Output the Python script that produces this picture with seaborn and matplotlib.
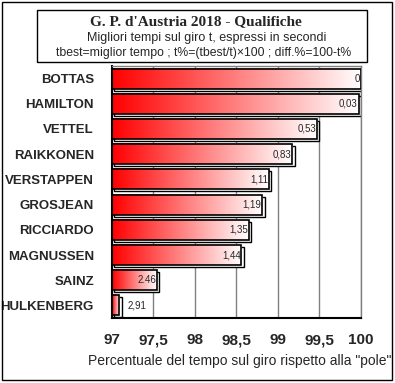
import matplotlib
matplotlib.use('Agg')
import matplotlib.pyplot as plt
import matplotlib.transforms as mtransforms
from matplotlib.colors import LinearSegmentedColormap
from matplotlib.patches import Rectangle
import numpy as np
import pandas as pd
import seaborn as sns

drivers = ['BOTTAS', 'HAMILTON', 'VETTEL', 'RAIKKONEN', 'VERSTAPPEN',
           'GROSJEAN', 'RICCIARDO', 'MAGNUSSEN', 'SAINZ', 'HULKENBERG']
diff_pct = [0, 0.03, 0.53, 0.83, 1.11, 1.19, 1.35, 1.44, 2.46, 2.91]
value_labels = ['0', '0,03', '0,53', '0,83', '1,11', '1,19', '1,35', '1,44', '2.46', '2,91']
x_ticks = [97, 97.5, 98, 98.5, 99, 99.5, 100]
x_ticklabels = ['97', '97,5', '98', '98,5', '99', '99,5', '100']

df = pd.DataFrame({'pilota': drivers, 'perc': [100 - d for d in diff_pct]})

sns.set_style('white')
plt.rcParams['font.family'] = ['Liberation Sans', 'DejaVu Sans']

fig = plt.figure(figsize=(3.95, 3.83), dpi=100)
ax = fig.add_axes([0.2835, 0.1697, 0.6304, 0.658])

sns.barplot(data=df, x='perc', y='pilota', orient='h', width=0.8,
            color='red', ax=ax, zorder=3)
bars = list(ax.patches)

xmin, xmax = 97, 100

# gradient fill red -> white for each bar, with a shadow outline
cmap = LinearSegmentedColormap.from_list('rw', ['#ff0000', '#ffffff'])
grad = np.linspace(0, 1, 256).reshape(1, -1)
shadow_tr = mtransforms.offset_copy(ax.transData, fig=fig, x=2.5, y=-2, units='dots')
for p in bars:
    x1 = p.get_x() + p.get_width()
    y, h = p.get_y(), p.get_height()
    ax.add_patch(Rectangle((xmin, y), x1 - xmin, h, transform=shadow_tr,
                           facecolor='white', edgecolor='black', lw=1, zorder=1))
    ax.imshow(grad, extent=(xmin, x1, y + h, y), aspect='auto', cmap=cmap,
              zorder=2, interpolation='bilinear')
    p.set_facecolor('none')
    p.set_edgecolor('black')
    p.set_linewidth(1.2)
    p.set_zorder(3)

ax.set_xlim(xmin, xmax)
ax.set_ylim(len(drivers) - 0.5, -0.5)

# value labels
for i, p in enumerate(bars):
    x1 = p.get_x() + p.get_width()
    yc = p.get_y() + p.get_height() / 2
    if x1 - xmin < 0.3:
        ax.text(x1 + 0.1, yc, value_labels[i], ha='left', va='center',
                fontsize=7, zorder=4)
    else:
        ax.text(x1 - 0.01, yc, value_labels[i], ha='right', va='center',
                fontsize=7, zorder=4)

ax.set_xticks(x_ticks, x_ticklabels)
ax.xaxis.grid(True, color='#808080', lw=1)
ax.set_axisbelow(True)
ax.tick_params(axis='x', length=0, pad=11, labelsize=11)
ax.tick_params(axis='y', length=0, pad=13, labelsize=9.5)
for lab in ax.get_xticklabels() + ax.get_yticklabels():
    lab.set_fontweight('bold')
ax.set_xlabel('')
ax.set_ylabel('')

for s in ['left', 'bottom']:
    ax.spines[s].set_color('black')
    ax.spines[s].set_linewidth(1.5)
for s in ['top', 'right']:
    ax.spines[s].set_color('#808080')
    ax.spines[s].set_linewidth(1)

# outer border and title box
border = Rectangle((0.005, 0.0078), 0.9874, 0.987, transform=fig.transFigure,
                   facecolor='none', edgecolor='black', lw=1)
fig.patches.append(border)
fig.patches.append(Rectangle((0.0937, 0.838), 0.835, 0.136, transform=fig.transFigure,
                             facecolor='none', edgecolor='black', lw=1))

fig.text(0.497, 0.9426, "G. P. d'Austria 2018 - Qualifiche", ha='center', va='center',
         family='Liberation Serif', fontweight='bold', fontsize=11)
fig.text(0.524, 0.9008, 'Migliori tempi sul giro t, espressi in secondi',
         ha='center', va='center', fontsize=9)
fig.text(0.516, 0.8616, 'tbest=miglior tempo ; t%=(tbest/t)×100 ; diff.%=100-t%',
         ha='center', va='center', fontsize=8.8)

xl = fig.text(0.223, 0.0574, 'Percentuale del tempo sul giro rispetto alla "pole"',
              ha='left', va='center', fontsize=10)
xl.set_clip_path(border)

fig.savefig('out.png', dpi=100)
